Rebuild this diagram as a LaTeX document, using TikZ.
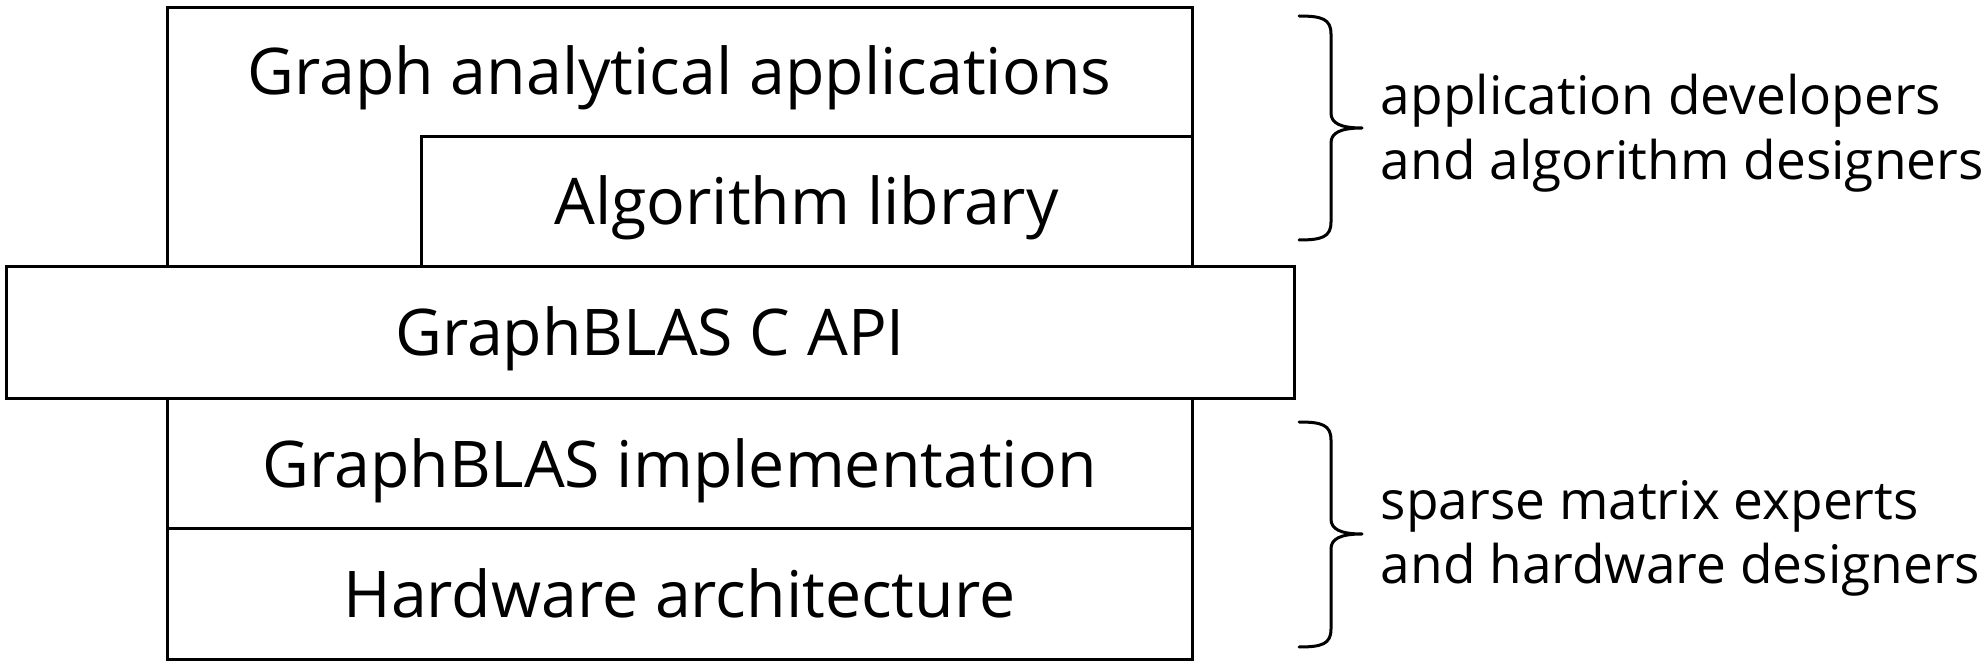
\documentclass[tikz,border=0pt]{standalone}
\usepackage{fontspec}
\setmainfont{Open Sans}
\begin{document}
\begin{tikzpicture}[x=0.25pt,y=-0.25pt,
  layer/.style={draw=black, line width=0.75pt, fill=white, rectangle,
    anchor=north west, inner sep=0pt, outer sep=0pt,
    text height=11.5pt, text depth=0pt,
    font=\fontsize{16.1}{19.5}\selectfont},
  caption/.style={inner sep=0pt, text height=11.5pt, text depth=0pt,
    font=\fontsize{16.1}{19.5}\selectfont},
  role/.style={anchor=base west, inner sep=0pt,
    font=\fontsize{13.3}{16.25}\selectfont},
  bracepath/.style={draw=black, line width=0.75pt, line cap=round, line join=round}]
\useasboundingbox (0,0) rectangle (1984,663);

% software stack
\node[layer, minimum width=256.25pt, minimum height=64.75pt, text height=0pt] (apps) at (167,8) {};
\node[caption] (appstext) at (679.5,72) {Graph analytical applications};
\node[layer, minimum width=192.75pt, minimum height=32.5pt] (algo) at (421,137) {Algorithm library};
\node[layer, minimum width=322pt, minimum height=33pt] (api) at (6,267) {GraphBLAS C API};
\node[layer, minimum width=256.25pt, minimum height=32.5pt] (impl) at (167,399) {GraphBLAS implementation};
\node[layer, minimum width=256.25pt, minimum height=32.5pt] (hw) at (167,529) {Hardware architecture};

% braces and the people responsible for each part
\coordinate (b1) at (1299,16);
\coordinate (t1) at (1362,128);
\coordinate (e1) at (1299,240);
\draw[bracepath] (b1) .. controls (1322,16) and (1331,19) .. (1331,34) -- (1331,113)
  .. controls (1331,123) and (1340,128) .. (t1)
  .. controls (1340,128) and (1331,133) .. (1331,143) -- (1331,222)
  .. controls (1331,237) and (1322,240) .. (e1);
\node[role] (devs1) at (1380,115) {application developers};
\node[role] (devs2) at (1380,180) {and algorithm designers};

\coordinate (b2) at (1299,422);
\coordinate (t2) at (1362,534);
\coordinate (e2) at (1299,647);
\draw[bracepath] (b2) .. controls (1322,422) and (1331,425) .. (1331,440) -- (1331,519)
  .. controls (1331,529) and (1340,534) .. (t2)
  .. controls (1340,534) and (1331,539) .. (1331,549) -- (1331,629)
  .. controls (1331,644) and (1322,647) .. (e2);
\node[role] (experts1) at (1380,520) {sparse matrix experts};
\node[role] (experts2) at (1380,584) {and hardware designers};
\end{tikzpicture}
\end{document}
